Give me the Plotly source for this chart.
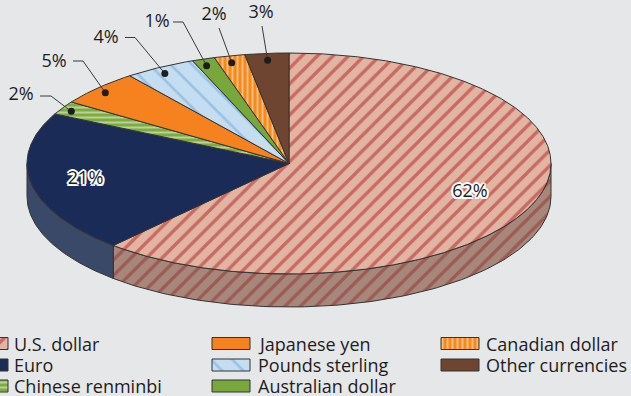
import numpy as np
import plotly.graph_objects as go

# ---------------- data ----------------
currencies = ["U.S. dollar", "Euro", "Chinese renminbi", "Japanese yen",
              "Pounds sterling", "Australian dollar", "Canadian dollar", "Other currencies"]
shares = [61.7, 20.7, 2.0, 5.2, 4.4, 1.4, 1.9, 2.7]
labels = [f"{round(v)}%" for v in shares]

# ---------------- styles ----------------
BG = "#e6e7e9"
EDGE = "#333333"
TXT = "#1e1c1d"
FONT = "Open Sans"
FS = 18

TOP_STYLE = [
    dict(shape="/", bgcolor="#e2b4a2", fgcolor="#b01e24", size=11, solidity=0.3),
    dict(color="#1a2b57"),
    dict(shape="-", bgcolor="#7dac40", fgcolor="#f4f8ee", size=5, solidity=0.4),
    dict(color="#f5821f"),
    dict(shape="\\", bgcolor="#c5ddf1", fgcolor="#6fa8d8", size=15, solidity=0.18),
    dict(color="#78a83b"),
    dict(shape="|", bgcolor="#f58a1f", fgcolor="#fff1dd", size=5, solidity=0.38),
    dict(color="#6e4530"),
]
SIDE_STYLE = {
    0: dict(shape="/", bgcolor="#a8877b", fgcolor="#8f2f30", size=11, solidity=0.3),
    1: dict(color="#3b4968"),
}

# geometry (pixels)
CX, CY, RX, RY, DEPTH = 289, 163.5, 262, 110.5, 33
INSET_X, INSET_Y = 10, 7
INNER_R = {0: 0.74, 1: 0.79}
OUTSIDE = [2, 3, 4, 5, 6, 7]
# label centre, leader start, leader elbow (None = straight)
LABEL_LAYOUT = {
    2: ((21, 95), (40, 96), (51, 96)),
    3: ((54, 62), (73, 61), (83, 61)),
    4: ((106, 38), (125, 37.5), (135, 37.5)),
    5: ((157, 22), (173, 22), (183, 22)),
    6: ((214, 15), (219, 28), None),
    7: ((261, 13), (262, 26), None),
}
LEG_COL_X = [-30, 212, 441]
LEG_TEXT_X = [12, 256, 484]
LEG_ROW_Y = [343.5, 365, 386]
SW_W, SW_H = 38, 12


def ell(t, rx=RX, ry=RY, dy=0.0):
    return CX + rx * np.sin(t), CY - ry * np.cos(t) + dy


def fill_kwargs(st):
    if "shape" in st:
        return dict(fillcolor=st["bgcolor"], fillpattern=st)
    return dict(fillcolor=st["color"])


fig = go.Figure()

cum = np.concatenate([[0], np.cumsum(shares)]) / sum(shares) * 2 * np.pi

# side walls (only the front half, t in [pi/2, 3pi/2])
for i in range(len(shares)):
    t0, t1 = max(cum[i], np.pi / 2), min(cum[i + 1], 1.5 * np.pi)
    if t1 <= t0:
        continue
    t = np.linspace(t0, t1, 120)
    xt, yt = ell(t)
    xb, yb = ell(t[::-1], dy=DEPTH)
    xs = np.concatenate([xt, xb, xt[:1]])
    ys = np.concatenate([yt, yb, yt[:1]])
    st = SIDE_STYLE.get(i, TOP_STYLE[i])
    fig.add_trace(go.Scatter(x=xs, y=ys, mode="lines", fill="toself",
                             line=dict(color=EDGE, width=1), hoverinfo="skip",
                             showlegend=False, **fill_kwargs(st)))

# top face wedges
for i in range(len(shares)):
    t = np.linspace(cum[i], cum[i + 1], max(8, int(200 * shares[i] / 20)))
    xa, ya = ell(t)
    xs = np.concatenate([[CX], xa, [CX]])
    ys = np.concatenate([[CY], ya, [CY]])
    fig.add_trace(go.Scatter(x=xs, y=ys, mode="lines", fill="toself",
                             line=dict(color=EDGE, width=1), name=currencies[i],
                             hoverinfo="name", showlegend=False,
                             **fill_kwargs(TOP_STYLE[i])))

mid = (cum[:-1] + cum[1:]) / 2

# inside labels
halo = ("-1.5px -1.5px 0 #fff, 1.5px -1.5px 0 #fff, -1.5px 1.5px 0 #fff, 1.5px 1.5px 0 #fff, "
        "0 -2px 0 #fff, 0 2px 0 #fff, -2px 0 0 #fff, 2px 0 0 #fff")
for i in range(len(shares)):
    if i in OUTSIDE:
        continue
    x, y = ell(mid[i], rx=RX * INNER_R[i], ry=RY * INNER_R[i])
    fig.add_trace(go.Scatter(x=[x], y=[y], mode="text", text=[labels[i]],
                             textfont=dict(family=FONT, size=FS, color=TXT, shadow=halo),
                             hoverinfo="skip", showlegend=False))

# outside labels with leader lines
for i in OUTSIDE:
    dx, dy = ell(mid[i], rx=RX - INSET_X, ry=RY - INSET_Y)
    (lx, ly), start, elbow = LABEL_LAYOUT[i]
    px = [start[0]] + ([elbow[0]] if elbow else []) + [dx]
    py = [start[1]] + ([elbow[1]] if elbow else []) + [dy]
    fig.add_trace(go.Scatter(x=px, y=py, mode="lines", line=dict(color="#3a3a3a", width=1),
                             hoverinfo="skip", showlegend=False))
    fig.add_trace(go.Scatter(x=[dx], y=[dy], mode="markers",
                             marker=dict(color=TXT, size=7), hoverinfo="skip",
                             showlegend=False))
    fig.add_trace(go.Scatter(x=[lx], y=[ly], mode="text", text=[labels[i]],
                             textfont=dict(family=FONT, size=FS, color=TXT),
                             hoverinfo="skip", showlegend=False))

# legend (3 columns, column-major)
for i, name in enumerate(currencies):
    c, r = divmod(i, 3)
    x0, yc = LEG_COL_X[c], LEG_ROW_Y[r]
    xs = [x0, x0 + SW_W, x0 + SW_W, x0, x0]
    ys = [yc - SW_H / 2, yc - SW_H / 2, yc + SW_H / 2, yc + SW_H / 2, yc - SW_H / 2]
    fig.add_trace(go.Scatter(x=xs, y=ys, mode="lines", fill="toself",
                             line=dict(color=EDGE, width=1), hoverinfo="skip",
                             showlegend=False, **fill_kwargs(TOP_STYLE[i])))
    fig.add_annotation(x=LEG_TEXT_X[c], y=yc, text=name, showarrow=False,
                       xanchor="left", yanchor="middle",
                       font=dict(family=FONT, size=FS, color=TXT))

fig.update_layout(
    width=631, height=396, margin=dict(l=0, r=0, t=0, b=0),
    paper_bgcolor=BG, plot_bgcolor=BG, showlegend=False,
    xaxis=dict(range=[0, 631], visible=False, fixedrange=True),
    yaxis=dict(range=[396, 0], visible=False, fixedrange=True),
)
fig.write_html("out.html")
